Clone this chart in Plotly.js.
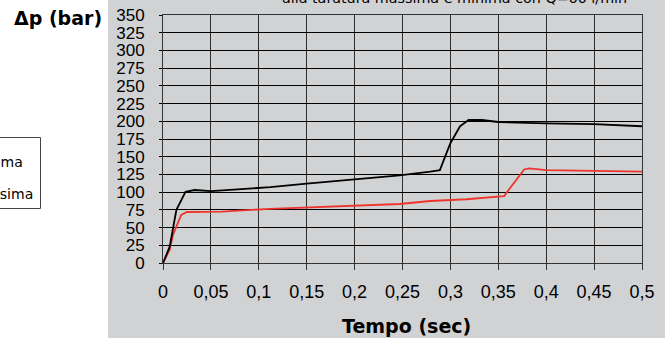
<!DOCTYPE html>
<html>
<head>
<meta charset="utf-8">
<script src="https://cdn.plot.ly/plotly-3.0.1.min.js"></script>
<style>
  html, body { margin: 0; padding: 0; background: #ffffff; }
  #chart { width: 665px; height: 338px; }
</style>
</head>
<body>
<div id="chart"></div>
<script>
// Pressure curves (bar) versus time (s) at minimum and maximum relief setting
const timeMin = [0, 0.007, 0.0105, 0.019, 0.025, 0.061, 0.112, 0.2, 0.247, 0.279, 0.30, 0.317, 0.356, 0.366, 0.377, 0.382, 0.40, 0.45, 0.5];
const pressMin = [0, 18.7, 40, 68, 72, 72.5, 76.5, 81.5, 83.3, 87.5, 89, 90, 94.5, 113, 132, 133.5, 131, 130, 129];

const timeMax = [0, 0.007, 0.014, 0.0235, 0.033, 0.05, 0.078, 0.112, 0.15, 0.2, 0.247, 0.279, 0.289, 0.30, 0.31, 0.319, 0.333, 0.35, 0.37, 0.40, 0.45, 0.5];
const pressMax = [0, 23, 75, 100.5, 103, 101.5, 104, 107, 112, 118.5, 123.7, 129, 131, 169, 193, 201.8, 201.8, 199, 198, 197, 196, 193];

const seriesNames = ['Taratura minima', 'Taratura massima'];

const xTickVals = [0, 0.05, 0.1, 0.15, 0.2, 0.25, 0.3, 0.35, 0.4, 0.45, 0.5];
const xTickText = ['0', '0,05', '0,1', '0,15', '0,2', '0,25', '0,3', '0,35', '0,4', '0,45', '0,5'];
const yTickVals = [0, 25, 50, 75, 100, 125, 150, 175, 200, 225, 250, 275, 300, 325, 350];

const chartTitle = 'alla taratura massima e minima con Q=60 l/min';
const xTitle = 'Tempo (sec)';
const yTitle = '\u0394p (bar)';

const W = 665, H = 338;
const M = { l: 163, r: 23, t: 15, b: 75 };
const pw = W - M.l - M.r, ph = H - M.t - M.b;
// pixel -> paper helpers for elements placed outside the plot area
const px = v => (v - M.l) / pw;
const py = v => (H - M.b - v) / ph;

const panel = 'rgb(209,210,212)';

const traces = [
  {
    x: timeMin, y: pressMin, name: seriesNames[0], type: 'scatter', mode: 'lines',
    line: { color: 'rgb(238,52,44)', width: 1.8 }, legendgroup: 'a'
  },
  {
    x: timeMax, y: pressMax, name: seriesNames[1], type: 'scatter', mode: 'lines',
    line: { color: '#000000', width: 1.8 }, legendgroup: 'b'
  }
];

const layout = {
  width: W, height: H,
  margin: { l: M.l, r: M.r, t: M.t, b: M.b, autoexpand: false },
  paper_bgcolor: '#ffffff',
  plot_bgcolor: panel,
  separators: ',.',
  showlegend: true,
  legend: {
    x: px(40), xanchor: 'right', y: py(146), yanchor: 'top',
    bgcolor: 'rgba(0,0,0,0)', borderwidth: 0,
    font: { family: 'DejaVu Sans, Verdana, sans-serif', size: 14, color: '#000' },
    tracegroupgap: 11
  },
  xaxis: {
    range: [0, 0.5], tickvals: xTickVals, ticktext: xTickText,
    showgrid: true, gridcolor: '#2e2e2e', gridwidth: 1,
    zeroline: false, showline: true, mirror: true, linecolor: '#333333', linewidth: 1,
    ticks: 'outside', ticklen: 6, tickcolor: '#333333',
    ticklabelstandoff: 6,
    tickfont: { family: 'Liberation Sans, Arial, sans-serif', size: 18, color: '#000' },
    fixedrange: true
  },
  yaxis: {
    range: [0, 350], tickvals: yTickVals,
    showgrid: true, gridcolor: '#000000', gridwidth: 1,
    zeroline: true, zerolinecolor: '#000000', zerolinewidth: 1,
    showline: true, mirror: true, linecolor: '#333333', linewidth: 1,
    ticks: 'outside', ticklen: 3, tickcolor: '#000000',
    ticklabelstandoff: 11,
    tickfont: { family: 'Liberation Sans, Arial, sans-serif', size: 17, color: '#000' },
    fixedrange: true
  },
  shapes: [
    {
      type: 'rect', xref: 'paper', yref: 'paper', layer: 'below',
      x0: px(108), x1: px(W + 2), y0: py(H + 2), y1: py(-2),
      fillcolor: panel, line: { width: 0 }
    },
    {
      // legend frame
      type: 'rect', xref: 'paper', yref: 'paper', layer: 'below',
      x0: px(-5), x1: px(40.5), y0: py(208.5), y1: py(137.5),
      fillcolor: '#ffffff', line: { color: '#444444', width: 1 }
    }
  ],
  annotations: [
    {
      text: chartTitle, xref: 'paper', yref: 'paper', x: px(454), y: py(-1.5),
      xanchor: 'center', yanchor: 'middle', showarrow: false,
      font: { family: 'DejaVu Sans, Verdana, sans-serif', size: 14.3, color: '#000' }
    },
    {
      text: '<b>' + xTitle + '</b>', xref: 'paper', yref: 'paper', x: px(406), y: py(326),
      xanchor: 'center', yanchor: 'middle', showarrow: false,
      font: { family: 'DejaVu Sans, Verdana, sans-serif', size: 19, color: '#000' }
    },
    {
      text: '<b>' + yTitle + '</b>', xref: 'paper', yref: 'paper', x: px(58), y: py(18),
      xanchor: 'center', yanchor: 'middle', showarrow: false,
      font: { family: 'DejaVu Sans, Verdana, sans-serif', size: 19, color: '#000' }
    }
  ]
};

Plotly.newPlot('chart', traces, layout, { displayModeBar: false, staticPlot: true });
</script>
</body>
</html>
